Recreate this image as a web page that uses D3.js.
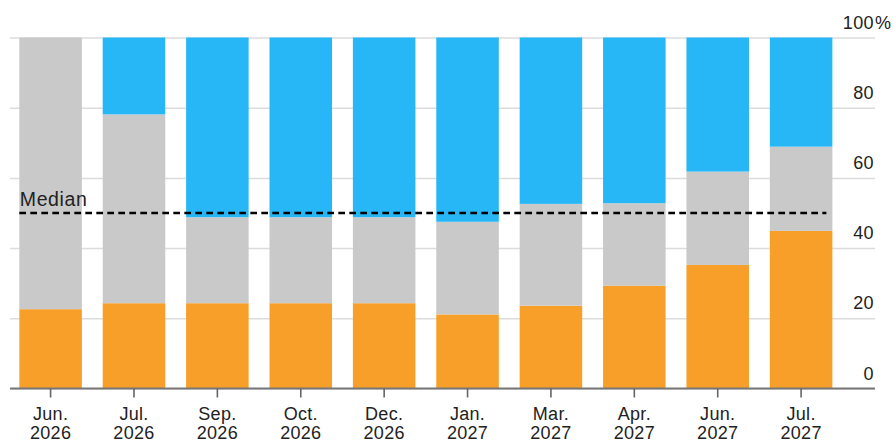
<!DOCTYPE html>
<html>
<head>
<meta charset="utf-8">
<script src="https://cdn.jsdelivr.net/npm/d3@7/dist/d3.min.js"></script>
<style>
  html, body { margin: 0; padding: 0; background: #fff; }
  svg { display: block; }
  text { font-family: "Liberation Sans", Arial, Helvetica, sans-serif; fill: #222; }
</style>
</head>
<body>
<svg id="chart" width="893" height="441"></svg>
<script>
// Survey dates (month / year)
const months = ["Jun.", "Jul.", "Sep.", "Oct.", "Dec.", "Jan.", "Mar.", "Apr.", "Jun.", "Jul."];
const years  = ["2026", "2026", "2026", "2026", "2026", "2027", "2027", "2027", "2027", "2027"];

// Share of responses, percent
const lowShare  = [22.6, 24.3, 24.3, 24.3, 24.3, 21.1, 23.6, 29.3, 35.2, 44.9];
const midShare  = [77.4, 53.8, 24.5, 24.5, 24.5, 26.4, 29.0, 23.5, 26.6, 24.0];
const highShare = [ 0.0, 21.9, 51.2, 51.2, 51.2, 52.5, 47.4, 47.2, 38.2, 31.1];

const yTicks = [0, 20, 40, 60, 80, 100];
const medianValue = 50;

const seriesKeys = ["low", "mid", "high"];
const seriesColors = { low: "#f89f2a", mid: "#c9c9c9", high: "#27b7f7" };

const rows = months.map((m, i) => ({
  key: i,
  low: lowShare[i], mid: midShare[i], high: highShare[i]
}));

const svg = d3.select("#chart");

const x = d3.scaleBand()
  .domain(rows.map(d => d.key))
  .range([8.9, 842.8])
  .paddingInner(0.25)
  .paddingOuter(0.125);

const y = d3.scaleLinear().domain([0, 100]).range([388.5, 37.5]);

const gridLeft = 10, gridRight = 875;

// Horizontal gridlines and right-hand value labels
const yAxis = svg.append("g")
  .attr("transform", `translate(${gridRight},0)`)
  .call(d3.axisRight(y).tickValues(yTicks).tickSize(-(gridRight - gridLeft)).tickPadding(0));
yAxis.select(".domain").remove();
yAxis.selectAll(".tick line")
  .attr("stroke", "#dcdcdc")
  .attr("stroke-width", 1.5);
yAxis.selectAll(".tick text")
  .attr("x", -1)
  .attr("dy", 0)
  .attr("y", -9.5)
  .attr("text-anchor", "end")
  .style("font-size", "18px")
  .style("letter-spacing", "0.4px")
  .attr("fill", "#222");
yAxis.selectAll(".tick")
  .filter(d => d === 100)
  .append("text")
  .attr("x", 0)
  .attr("y", -9.5)
  .attr("text-anchor", "start")
  .style("font-size", "18px")
  .attr("fill", "#222")
  .text("%");

// Stacked bars
const stacked = d3.stack().keys(seriesKeys)(rows);
svg.append("g")
  .selectAll("g")
  .data(stacked)
  .join("g")
  .attr("fill", s => seriesColors[s.key])
  .selectAll("rect")
  .data(s => s)
  .join("rect")
  .attr("x", d => x(d.data.key))
  .attr("width", x.bandwidth())
  .attr("y", d => y(d[1]))
  .attr("height", d => Math.max(0, y(d[0]) - y(d[1])));

// Baseline and category ticks
const xAxis = svg.append("g")
  .attr("transform", `translate(0,${y(0)})`)
  .call(d3.axisBottom(x).tickSize(9).tickSizeOuter(0).tickFormat(() => ""));
xAxis.select(".domain")
  .attr("d", `M${gridLeft},0H${gridRight}`)
  .attr("stroke", "#777")
  .attr("stroke-width", 2);
xAxis.selectAll(".tick line")
  .attr("stroke", "#666")
  .attr("stroke-width", 1.6);
xAxis.selectAll(".tick text").remove();
const labels = xAxis.selectAll(".tick")
  .append("text")
  .attr("text-anchor", "middle")
  .style("font-size", "18px")
  .style("letter-spacing", "0.3px")
  .attr("fill", "#222");
labels.append("tspan").attr("x", 0).attr("y", 31.5).text(d => months[d]);
labels.append("tspan").attr("x", 0).attr("y", 50).text(d => years[d]);

// Median reference line
const medX0 = x(rows[0].key);
const medX1 = x(rows[rows.length - 1].key) + x.bandwidth() - 6;
svg.append("line")
  .attr("x1", medX0).attr("x2", medX1)
  .attr("y1", y(medianValue)).attr("y2", y(medianValue))
  .attr("stroke", "#000")
  .attr("stroke-width", 2.5)
  .attr("stroke-dasharray", "6.7 4.3");
svg.append("text")
  .attr("x", medX0 + 0.5)
  .attr("y", y(medianValue) - 7.3)
  .style("font-size", "19.5px")
  .style("letter-spacing", "0.6px")
  .attr("fill", "#111")
  .text("Median");
</script>
</body>
</html>
